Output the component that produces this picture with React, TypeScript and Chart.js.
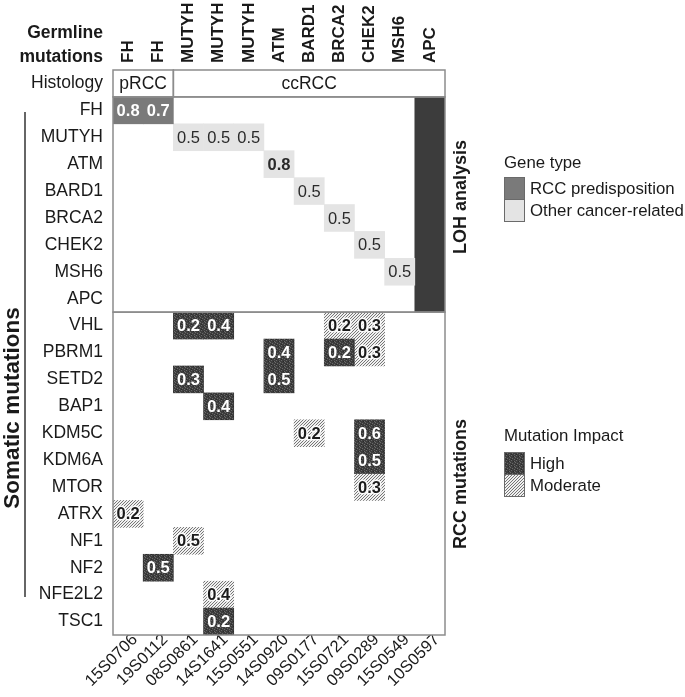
import React, { useEffect, useRef } from 'react';
import { Chart, registerables } from 'chart.js';

Chart.register(...registerables);

const FONT = '"Liberation Sans", Arial, Helvetica, sans-serif';

// ---------- data ----------
const samples = ['15S0706', '19S0112', '08S0861', '14S1641', '15S0551', '14S0920', '09S0177', '15S0721', '09S0289', '15S0549', '10S0597'];
const germlineGenes = ['FH', 'FH', 'MUTYH', 'MUTYH', 'MUTYH', 'ATM', 'BARD1', 'BRCA2', 'CHEK2', 'MSH6', 'APC'];
const histologyLabel = 'Histology';
const lohGenes = ['FH', 'MUTYH', 'ATM', 'BARD1', 'BRCA2', 'CHEK2', 'MSH6', 'APC'];
const somaticGenes = ['VHL', 'PBRM1', 'SETD2', 'BAP1', 'KDM5C', 'KDM6A', 'MTOR', 'ATRX', 'NF1', 'NF2', 'NFE2L2', 'TSC1'];
const rowLabels = [histologyLabel, ...lohGenes, ...somaticGenes];

// [label, first sample, last sample]
const histologyGroups: [string, string, string][] = [
  ['pRCC', '15S0706', '19S0112'],
  ['ccRCC', '08S0861', '10S0597'],
];

// [sample, gene, LOH fraction]
const lohRccPredisposition: [string, string, number][] = [
  ['15S0706', 'FH', 0.8],
  ['19S0112', 'FH', 0.7],
];
const lohOtherCancer: [string, string, number][] = [
  ['08S0861', 'MUTYH', 0.5],
  ['14S1641', 'MUTYH', 0.5],
  ['15S0551', 'MUTYH', 0.5],
  ['14S0920', 'ATM', 0.8],
  ['09S0177', 'BARD1', 0.5],
  ['15S0721', 'BRCA2', 0.5],
  ['09S0289', 'CHEK2', 0.5],
  ['15S0549', 'MSH6', 0.5],
];
// [sample, from gene, to gene] (whole-column LOH)
const lohWholeColumn: [string, string, string][] = [['10S0597', 'FH', 'APC']];

// [sample, gene, variant allele fraction]
const rccHighImpact: [string, string, number][] = [
  ['08S0861', 'VHL', 0.2],
  ['14S1641', 'VHL', 0.4],
  ['14S0920', 'PBRM1', 0.4],
  ['15S0721', 'PBRM1', 0.2],
  ['08S0861', 'SETD2', 0.3],
  ['14S0920', 'SETD2', 0.5],
  ['14S1641', 'BAP1', 0.4],
  ['09S0289', 'KDM5C', 0.6],
  ['09S0289', 'KDM6A', 0.5],
  ['19S0112', 'NF2', 0.5],
  ['14S1641', 'TSC1', 0.2],
];
const rccModerateImpact: [string, string, number][] = [
  ['15S0721', 'VHL', 0.2],
  ['09S0289', 'VHL', 0.3],
  ['09S0289', 'PBRM1', 0.3],
  ['09S0177', 'KDM5C', 0.2],
  ['09S0289', 'MTOR', 0.3],
  ['15S0706', 'ATRX', 0.2],
  ['08S0861', 'NF1', 0.5],
  ['14S1641', 'NFE2L2', 0.4],
];

// ---------- helpers ----------
const rowOf = (g: string) => rowLabels.indexOf(g);
const cells = (list: [string, string, number][]) =>
  list.map(([s, g, v]) => ({ x: s, y: [rowOf(g), rowOf(g) + 1], v }));

function makeHighPattern(ctx: CanvasRenderingContext2D) {
  const tile = [
    '01000',
    '00021',
    '10000',
    '00100',
    '02001',
  ];
  const c = document.createElement('canvas');
  c.width = 5;
  c.height = 5;
  const g = c.getContext('2d')!;
  const shades = ['#3d3d3d', '#6a6a6a', '#2a2a2a'];
  for (let y = 0; y < 5; y++)
    for (let x = 0; x < 5; x++) {
      g.fillStyle = shades[+tile[y][x]];
      g.fillRect(x, y, 1, 1);
    }
  return ctx.createPattern(c, 'repeat')!;
}
function makeHatchPattern(ctx: CanvasRenderingContext2D) {
  const c = document.createElement('canvas');
  c.width = 3;
  c.height = 3;
  const g = c.getContext('2d')!;
  g.fillStyle = '#f0f0f0';
  g.fillRect(0, 0, 3, 3);
  g.fillStyle = '#767676';
  g.fillRect(2, 0, 1, 1);
  g.fillRect(1, 1, 1, 1);
  g.fillRect(0, 2, 1, 1);
  return ctx.createPattern(c, 'repeat')!;
}

export default function App() {
  const ref = useRef<HTMLCanvasElement>(null);

  useEffect(() => {
    document.body.style.margin = '0';
    const canvas = ref.current!;
    const ctx0 = canvas.getContext('2d')!;
    const highPat = makeHighPattern(ctx0);
    const hatchPat = makeHatchPattern(ctx0);
    const BORDER = '#8c8c8c';
    const TEXT = '#1a1a1a';

    const decorations = {
      id: 'decorations',
      afterDatasetsDraw(chart: any) {
        const ctx = chart.ctx as CanvasRenderingContext2D;
        const xs = chart.scales.x;
        const ys = chart.scales.y;
        const ca = chart.chartArea;
        const half = (xs.getPixelForValue(1) - xs.getPixelForValue(0)) / 2;

        // cell value labels
        chart.data.datasets.forEach((ds: any, di: number) => {
          const meta = chart.getDatasetMeta(di);
          meta.data.forEach((el: any, i: number) => {
            const raw = ds.data[i];
            if (raw.v == null) return;
            const { x, y, base } = el.getProps(['x', 'y', 'base'], true);
            const cy = (y + base) / 2 + 1;
            const txt = raw.v.toFixed(1);
            ctx.save();
            ctx.textAlign = 'center';
            ctx.textBaseline = 'middle';
            const bold = ds.labelStyle !== 'plain' || raw.v >= 0.7;
            ctx.font = `${bold ? 'bold ' : ''}16.5px ${FONT}`;
            if (ds.labelStyle === 'white') {
              ctx.fillStyle = '#ffffff';
              ctx.fillText(txt, x, cy);
            } else if (ds.labelStyle === 'halo') {
              ctx.lineJoin = 'round';
              ctx.lineWidth = 3;
              ctx.strokeStyle = 'rgba(255,255,255,0.9)';
              ctx.strokeText(txt, x, cy);
              ctx.fillStyle = TEXT;
              ctx.fillText(txt, x, cy);
            } else {
              ctx.fillStyle = '#2a2a2a';
              ctx.fillText(txt, x, cy);
            }
            ctx.restore();
          });
        });

        ctx.save();
        ctx.strokeStyle = BORDER;
        ctx.lineWidth = 1.5;
        // histology boxes
        const hTop = ys.getPixelForValue(0);
        const hBot = ys.getPixelForValue(1);
        histologyGroups.forEach(([label, a, b]) => {
          const l = xs.getPixelForValue(samples.indexOf(a)) - half;
          const r = xs.getPixelForValue(samples.indexOf(b)) + half;
          ctx.strokeRect(l, hTop, r - l, hBot - hTop);
          ctx.fillStyle = TEXT;
          ctx.font = `17.5px ${FONT}`;
          ctx.textAlign = 'center';
          ctx.textBaseline = 'middle';
          ctx.fillText(label, (l + r) / 2, (hTop + hBot) / 2 + 1);
        });
        // section boxes
        const lohTop = ys.getPixelForValue(rowOf(lohGenes[0]));
        const lohBot = ys.getPixelForValue(rowOf(lohGenes[lohGenes.length - 1]) + 1);
        const rccBot = ys.getPixelForValue(rowOf(somaticGenes[somaticGenes.length - 1]) + 1);
        ctx.strokeRect(ca.left, lohTop, ca.right - ca.left, lohBot - lohTop);
        ctx.strokeRect(ca.left, lohBot, ca.right - ca.left, rccBot - lohBot);
        ctx.restore();

        // left titles
        ctx.save();
        ctx.fillStyle = TEXT;
        ctx.font = `bold 17.5px ${FONT}`;
        ctx.textAlign = 'right';
        ctx.textBaseline = 'middle';
        ctx.fillText('Germline', ca.left - 10, 33);
        ctx.fillText('mutations', ca.left - 10, 57);

        ctx.strokeStyle = '#333';
        ctx.lineWidth = 1.5;
        ctx.beginPath();
        ctx.moveTo(25, 112);
        ctx.lineTo(25, 597);
        ctx.stroke();

        ctx.save();
        ctx.translate(13, 408);
        ctx.rotate(-Math.PI / 2);
        ctx.font = `bold 22.5px ${FONT}`;
        ctx.textAlign = 'center';
        ctx.fillText('Somatic mutations', 0, 0);
        ctx.restore();

        // right titles
        ctx.font = `bold 18px ${FONT}`;
        ctx.save();
        ctx.translate(ca.right + 16, 197);
        ctx.rotate(-Math.PI / 2);
        ctx.textAlign = 'center';
        ctx.fillText('LOH analysis', 0, 0);
        ctx.restore();
        ctx.save();
        ctx.translate(ca.right + 16, 484);
        ctx.rotate(-Math.PI / 2);
        ctx.textAlign = 'center';
        ctx.fillText('RCC mutations', 0, 0);
        ctx.restore();

        // legends
        const lx = ca.right + 59;
        ctx.font = `16.8px ${FONT}`;
        ctx.textAlign = 'left';
        ctx.fillText('Gene type', lx, 163);
        const sw = (y: number, fill: any, text: string) => {
          ctx.fillStyle = fill;
          ctx.fillRect(lx, y, 20, 22);
          ctx.strokeStyle = '#6a6a6a';
          ctx.lineWidth = 1;
          ctx.strokeRect(lx + 0.5, y + 0.5, 20, 22);
          ctx.fillStyle = TEXT;
          ctx.fillText(text, lx + 26, y + 12);
        };
        sw(177, '#7a7a7a', 'RCC predisposition');
        sw(199, '#e4e4e4', 'Other cancer-related');
        ctx.fillText('Mutation Impact', lx, 436);
        sw(452, highPat, 'High');
        sw(474, hatchPat, 'Moderate');
        ctx.restore();
      },
    };

    const barCommon = {
      barPercentage: 1,
      categoryPercentage: 1,
      grouped: false,
      borderWidth: 0,
      borderSkipped: false,
    };

    const chart = new Chart(canvas, {
      type: 'bar',
      data: {
        labels: samples,
        datasets: [
          { ...barCommon, label: 'RCC predisposition', data: cells(lohRccPredisposition) as any, backgroundColor: '#7a7a7a', labelStyle: 'white' } as any,
          { ...barCommon, label: 'Other cancer-related', data: cells(lohOtherCancer) as any, backgroundColor: '#e4e4e4', labelStyle: 'plain' } as any,
          {
            ...barCommon,
            label: 'LOH whole',
            data: lohWholeColumn.map(([s, a, b]) => ({ x: s, y: [rowOf(a), rowOf(b) + 1] })) as any,
            backgroundColor: '#3c3c3c',
          } as any,
          { ...barCommon, label: 'High', data: cells(rccHighImpact) as any, backgroundColor: highPat, labelStyle: 'white' } as any,
          { ...barCommon, label: 'Moderate', data: cells(rccModerateImpact) as any, backgroundColor: hatchPat, labelStyle: 'halo' } as any,
        ],
      },
      options: {
        responsive: false,
        animation: false,
        events: [],
        layout: { padding: { left: 0, right: 240, top: 0, bottom: 0 } },
        plugins: { legend: { display: false }, tooltip: { enabled: false } },
        scales: {
          x: {
            type: 'category',
            position: 'bottom',
            offset: true,
            grid: { display: false, drawTicks: false },
            border: { display: false },
            ticks: {
              autoSkip: false,
              minRotation: 45,
              maxRotation: 45,
              padding: -5,
              labelOffset: 7,
              color: TEXT,
              font: { family: FONT, size: 16.5 },
            },
            afterFit: (s: any) => {
              s.height = 62;
            },
          },
          x2: {
            type: 'category',
            position: 'top',
            labels: germlineGenes,
            offset: true,
            grid: { display: false, drawTicks: false },
            border: { display: false },
            ticks: {
              autoSkip: false,
              minRotation: 90,
              maxRotation: 90,
              padding: 7,
              labelOffset: 20.4,
              color: TEXT,
              font: { family: FONT, size: 17, weight: 'bold' },
            },
            afterFit: (s: any) => {
              s.height = 70;
            },
          },
          y: {
            type: 'linear',
            reverse: true,
            min: 0,
            max: rowLabels.length,
            grid: { display: false, drawTicks: false },
            border: { display: false },
            afterBuildTicks: (s: any) => {
              s.ticks = rowLabels.map((_, i) => ({ value: i + 0.5 }));
            },
            ticks: {
              autoSkip: false,
              padding: 10,
              color: TEXT,
              font: { family: FONT, size: 17.5 },
              callback: (_v: any, i: number) => rowLabels[i],
            },
            afterFit: (s: any) => {
              s.width = 113;
            },
          },
        },
      } as any,
      plugins: [decorations],
    });

    return () => chart.destroy();
  }, []);

  return (
    <div style={{ width: 685, height: 697 }}>
      <canvas ref={ref} width={685} height={697} style={{ display: 'block' }} />
    </div>
  );
}
